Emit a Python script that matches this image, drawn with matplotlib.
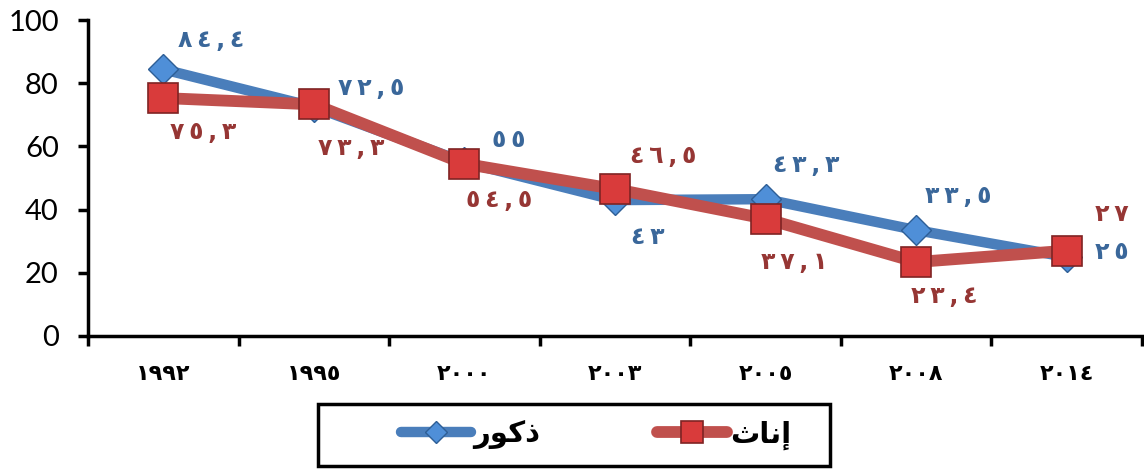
import numpy as np
import matplotlib
matplotlib.use("Agg")
import matplotlib.pyplot as plt
from matplotlib.patches import Rectangle
from matplotlib.ticker import FixedLocator, NullFormatter

# Data
years = ["١٩٩٢", "١٩٩٥", "٢٠٠٠", "٢٠٠٣", "٢٠٠٥", "٢٠٠٨", "٢٠١٤"]
males = [84.4, 72.5, 55, 43, 43.3, 33.5, 25]
females = [75.3, 73.3, 54.5, 46.5, 37.1, 23.4, 27]
male_labels = ["٨٤,٤", "٧٢,٥", "٥٥", "٤٣", "٤٣,٣", "٣٣,٥", "٢٥"]
female_labels = ["٧٥,٣", "٧٣,٣", "٥٤,٥", "٤٦,٥", "٣٧,١", "٢٣,٤", "٢٧"]
# legend names, pre-shaped (presentation forms, visual order)
name_males = "\uFEAD\uFEEE\uFEDB\uFEAB"     # ذكور
name_females = "\uFE99\uFE8E\uFEE7\uFE87"   # إناث

# label offsets in pixels (dx, dy) relative to the point
male_off = [(48, 29), (57, 19), (44, 22), (33, -37), (41, 34), (42, 34), (45, 5)]
female_off = [(40, -34), (37, -44), (35, -36), (48, 33), (29, -43), (28, -34), (45, 37)]

blue = "#4A7EBB"
blue_txt = "#3A679A"
red = "#C0504D"
red_txt = "#963634"

fig = plt.figure(figsize=(11.44, 4.69), dpi=100)
ax = fig.add_axes([88 / 1144, 1 - 336 / 469, 1054 / 1144, 316 / 469])

x = np.arange(len(years))
ax.plot(x, males, color=blue, lw=7.5, marker="D", ms=15.5,
        mfc="#4F8FD8", mec="#2E5E96", mew=1, label=name_males, zorder=3,
        solid_joinstyle="round", solid_capstyle="round")
ax.plot(x, females, color=red, lw=8.5, marker="s", ms=22,
        mfc="#D93B3B", mec="#7F2323", mew=1.2, label=name_females, zorder=4,
        solid_joinstyle="round", solid_capstyle="round")

for xi, v, s, (dx, dy) in zip(x, males, male_labels, male_off):
    ax.annotate("\u2009".join(s), (xi, v), xytext=(dx * 0.72, dy * 0.72),
                textcoords="offset points", ha="center", va="center",
                fontsize=17, fontweight="bold", color=blue_txt,
                family=["DejaVu Sans"], zorder=5)
for xi, v, s, (dx, dy) in zip(x, females, female_labels, female_off):
    ax.annotate("\u2009".join(s), (xi, v), xytext=(dx * 0.72, dy * 0.72),
                textcoords="offset points", ha="center", va="center",
                fontsize=17, fontweight="bold", color=red_txt,
                family=["DejaVu Sans"], zorder=5)

ax.set_xlim(-0.5, 6.5)
ax.set_ylim(0, 100)
ax.set_yticks([0, 20, 40, 60, 80, 100])
ax.set_yticklabels(["0", "20", "40", "60", "80", "100"],
                   family=["Lato", "DejaVu Sans"], fontsize=21)

ax.xaxis.set_major_locator(FixedLocator(np.arange(-0.5, 7, 1.0)))
ax.xaxis.set_major_formatter(NullFormatter())
ax.xaxis.set_minor_locator(FixedLocator(x))
ax.set_xticklabels(years, minor=True, fontsize=16, fontweight="bold",
                   family=["DejaVu Sans"])
ax.tick_params(axis="x", which="major", length=7, width=2.5, direction="out")
ax.tick_params(axis="x", which="minor", length=0, pad=20)
ax.tick_params(axis="y", length=7, width=2.5, direction="out", pad=14)

for side in ["top", "right"]:
    ax.spines[side].set_visible(False)
for side in ["left", "bottom"]:
    ax.spines[side].set_linewidth(2.5)

# legend box drawn separately (uneven inner padding in the original)
fig.patches.append(Rectangle((318 / 1144, 1 - 466 / 469), 512 / 1144, 62 / 469,
                             transform=fig.transFigure, fill=False,
                             edgecolor="black", linewidth=2.5))
leg = fig.legend(loc="center", bbox_to_anchor=(596 / 1144, 1 - 435 / 469),
                 ncol=2, frameon=False, markerscale=0.75,
                 prop={"family": "DejaVu Sans", "weight": "bold", "size": 21},
                 handlelength=2.4, columnspacing=4.0,
                 handletextpad=0.1, borderaxespad=0)

fig.savefig("out.png", dpi=100)
